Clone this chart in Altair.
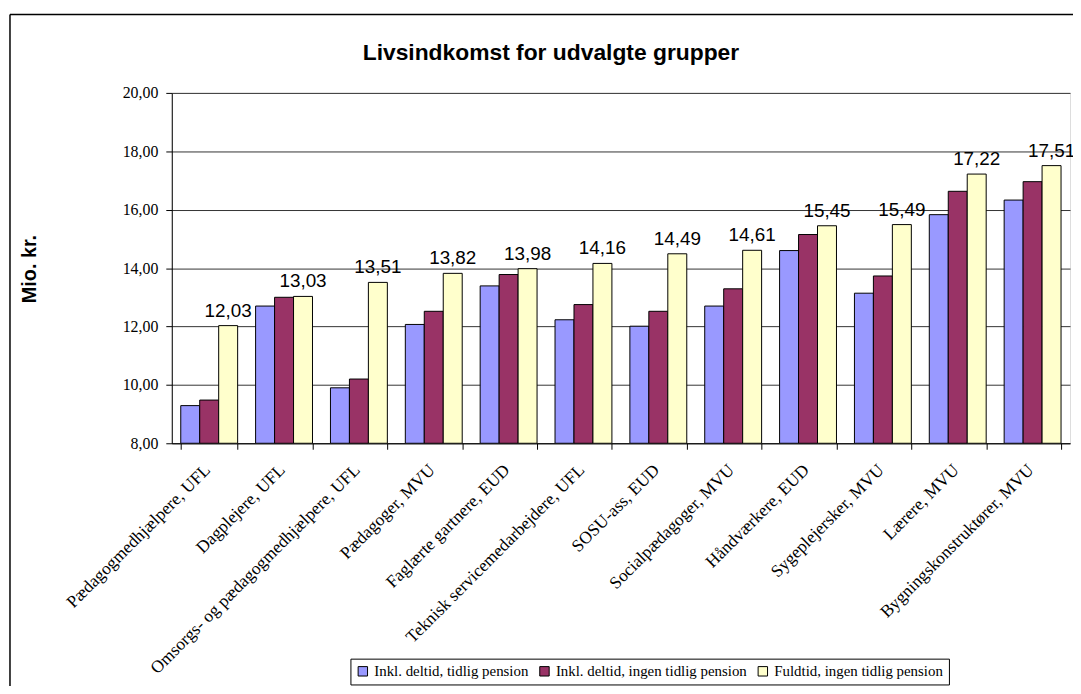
import altair as alt
import pandas as pd

groups = [
    "Pædagogmedhjælpere, UFL",
    "Dagplejere, UFL",
    "Omsorgs- og pædagogmedhjælpere, UFL",
    "Pædagoger, MVU",
    "Faglærte gartnere, EUD",
    "Teknisk servicemedarbejdere, UFL",
    "SOSU-ass, EUD",
    "Socialpædagoger, MVU",
    "Håndværkere, EUD",
    "Sygeplejersker, MVU",
    "Lærere, MVU",
    "Bygningskonstruktører, MVU",
]
series = [
    "Inkl. deltid, tidlig pension",
    "Inkl. deltid, ingen tidlig pension",
    "Fuldtid, ingen tidlig pension",
]
tidlig = [9.29, 12.70, 9.90, 12.07, 13.39, 12.23, 12.01, 12.70, 14.60, 13.14, 15.83, 16.33]
ingen = [9.48, 13.00, 10.20, 12.52, 13.78, 12.75, 12.52, 13.29, 15.15, 13.73, 16.63, 16.96]
fuldtid = [12.03, 13.03, 13.51, 13.82, 13.98, 14.16, 14.49, 14.61, 15.45, 15.49, 17.22, 17.51]
colors = ["#9999FF", "#993366", "#FFFFCC"]
y_ticks = [8, 10, 12, 14, 16, 18, 20]
title_text = "Livsindkomst for udvalgte grupper"

rows = []
for s, vals in zip(series, [tidlig, ingen, fuldtid]):
    for g, v in zip(groups, vals):
        rows.append({"gruppe": g, "serie": s, "vaerdi": v,
                     "label": f"{v:.2f}".replace(".", ",")})
df = pd.DataFrame(rows)

x_enc = alt.X(
    "gruppe:N", sort=groups,
    scale=alt.Scale(paddingInner=0.24, paddingOuter=0.12),
    axis=alt.Axis(
        title=None, labelAngle=315, labelAlign="right", labelBaseline="middle",
        labelFont="Liberation Serif", labelFontSize=17.5, labelColor="black",
        labelLimit=500, labelPadding=18, labelOffset=-2, tickSize=6, tickColor="black",
        domainColor="black", tickBand="extent", grid=False,
    ),
)
xoff_enc = alt.XOffset("serie:N", sort=series, scale=alt.Scale(paddingInner=0, paddingOuter=0))

bars = alt.Chart(df).mark_bar(stroke="black", strokeWidth=1, clip=True).encode(
    x=x_enc,
    xOffset=xoff_enc,
    y=alt.Y(
        "vaerdi:Q",
        scale=alt.Scale(domain=[8, 20], nice=False, zero=False),
        axis=alt.Axis(
            values=y_ticks,
            labelExpr="replace(format(datum.value, '.2f'), '.', ',')",
            labelFont="Liberation Serif", labelFontSize=16, labelColor="black",
            labelPadding=8, tickSize=6, tickColor="black", domainColor="black",
            grid=True, gridColor="#333333", gridWidth=1,
            title="Mio. kr.", titleFont="Liberation Sans", titleFontSize=20,
            titleFontWeight="bold", titleColor="black", titleAngle=270,
            titleX=-143, titleY=177, titleAlign="center", titleBaseline="middle",
        ),
    ),
    y2=alt.datum(8),
    color=alt.Color(
        "serie:N", sort=series,
        scale=alt.Scale(domain=series, range=colors),
        legend=alt.Legend(
            title=None, orient="none", direction="horizontal",
            legendX=180, legendY=570,
            labelFont="Liberation Serif", labelFontSize=15, labelColor="black",
            labelLimit=400, labelOffset=4, symbolType="square", symbolSize=90,
            symbolStrokeColor="black", symbolStrokeWidth=1,
            strokeColor="black", fillColor="white", padding=5,
            columnPadding=8,
        ),
    ),
)

labels = alt.Chart(df).transform_filter(
    alt.datum.serie == series[2]
).mark_text(
    baseline="bottom", dy=-5, font="Liberation Sans", fontSize=19, color="black"
).encode(
    x=x_enc,
    xOffset=xoff_enc,
    y=alt.Y("vaerdi:Q"),
    text="label:N",
)

frame_df = pd.DataFrame({"k": [0]})
frame_left = alt.Chart(frame_df).mark_rule(color="black", strokeWidth=1.5).encode(
    x=alt.value(-163), y=alt.value(-79), y2=alt.value(700)
)
frame_top = alt.Chart(frame_df).mark_rule(color="black", strokeWidth=1.5).encode(
    x=alt.value(-163), x2=alt.value(1000), y=alt.value(-79)
)
title_mark = alt.Chart(frame_df).mark_text(
    font="Liberation Sans", fontSize=23, fontWeight="bold", color="black",
    align="center", baseline="alphabetic",
).encode(x=alt.value(382), y=alt.value(-33), text=alt.value(title_text))

chart = alt.layer(frame_left, frame_top, title_mark, bars, labels).properties(
    width=905, height=353,
    autosize=alt.AutoSizeParams(type="none"),
    padding={"left": 165, "top": 83, "right": 3, "bottom": 242},
).configure_view(fill="#C0C0C0", stroke=None).configure(background="white")

chart.save("out.html", embed_options={"renderer": "svg", "actions": False})
